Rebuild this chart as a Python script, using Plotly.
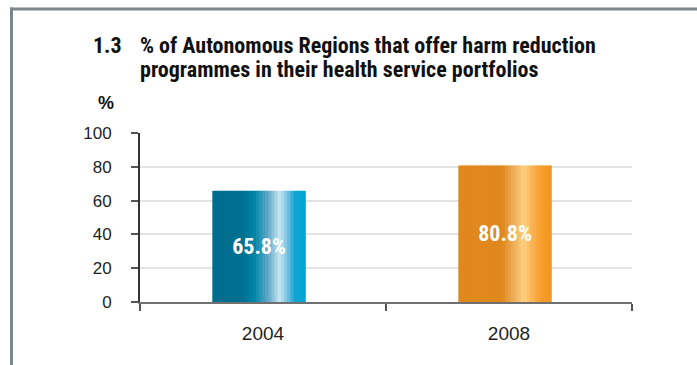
import plotly.graph_objects as go

# ---- data ----
categories = ["2004", "2008"]
values = [65.8, 80.8]
bar_labels = ["65.8%", "80.8%"]
y_ticks = [0, 20, 40, 60, 80, 100]
title_number = "1.3"
title_line1 = "% of Autonomous Regions that offer harm reduction"
title_line2 = "programmes in their health service portfolios"
y_unit = "%"

# ---- styling ----
W, H = 697, 365
ML, MR, MT, MB = 140, 65, 133, 63
PW, PH = W - ML - MR, H - MT - MB

def px(x):
    return (x - ML) / PW

def py(y):
    return (H - MB - y) / PH

blue_stops = [(0.0, (0, 110, 142)), (0.33, (0, 112, 144)), (0.45, (0, 134, 168)),
              (0.60, (100, 170, 200)), (0.72, (200, 230, 242)), (0.80, (120, 196, 226)),
              (0.88, (20, 166, 210)), (1.0, (0, 164, 210))]
orange_stops = [(0.0, (224, 136, 28)), (0.47, (224, 136, 28)), (0.55, (232, 160, 70)),
                (0.70, (255, 208, 130)), (0.80, (250, 176, 80)), (0.90, (245, 156, 40)),
                (1.0, (245, 150, 32))]

def colour_at(stops, f):
    for (f0, c0), (f1, c1) in zip(stops[:-1], stops[1:]):
        if f0 <= f <= f1:
            t = 0 if f1 == f0 else (f - f0) / (f1 - f0)
            c = [round(a + (b - a) * t) for a, b in zip(c0, c1)]
            return "rgb(%d,%d,%d)" % tuple(c)
    return "rgb(%d,%d,%d)" % stops[-1][1]

bar_w = 0.38
shift = -0.016
N = 30
sw = bar_w / N
COND = "Roboto Condensed, Liberation Sans Narrow, Arial Narrow, Liberation Sans"

fig = go.Figure()
for i in range(N):
    f = (i + 0.5) / N
    fig.add_trace(go.Bar(
        x=categories, y=values,
        width=sw * (1.5 if i < N - 1 else 1.0), offset=shift - bar_w / 2 + i * sw,
        marker=dict(color=[colour_at(blue_stops, f), colour_at(orange_stops, f)],
                    line=dict(width=0)),
        hoverinfo="skip", showlegend=False,
    ))

fig.add_trace(go.Bar(
    x=categories, y=values, width=bar_w, offset=shift - bar_w / 2,
    marker=dict(color="rgba(0,0,0,0)", line=dict(width=0)),
    text=bar_labels, textposition="inside", insidetextanchor="middle",
    textfont=dict(family=COND, size=22, color="white", weight="bold"),
    textangle=0, showlegend=False, hoverinfo="skip",
))

fig.update_layout(
    width=W, height=H,
    margin=dict(l=ML, r=MR, t=MT, b=MB),
    paper_bgcolor="white", plot_bgcolor="white",
    barmode="overlay",
    xaxis=dict(
        type="category", tickson="boundaries", ticks="outside", ticklen=7,
        tickcolor="#555", tickwidth=1.5, showline=True, linecolor="#707070", linewidth=1.5,
        showgrid=False, range=[-0.5, 1.5],
        tickfont=dict(family="Liberation Sans, Arial", size=19, color="#231f20"),
        ticklabelstandoff=13,
    ),
    yaxis=dict(
        range=[0, 100], tickvals=y_ticks, ticks="outside", ticklen=7,
        tickcolor="#555", tickwidth=1.5, showline=True, linecolor="#333", linewidth=2,
        gridcolor="#e3e3e3", gridwidth=1.5, zeroline=False,
        tickfont=dict(family="Liberation Sans, Arial", size=17, color="#231f20"),
        ticklabelstandoff=16,
    ),
    showlegend=False,
)

tf = dict(family=COND, size=22, color="#111", weight="bold")

fig.add_annotation(xref="paper", yref="paper", showarrow=False, text=title_number, borderpad=0,
                   x=px(92), y=py(59), xanchor="left", yanchor="bottom", font=tf)
fig.add_annotation(xref="paper", yref="paper", showarrow=False, text=title_line1, borderpad=0,
                   x=px(139), y=py(59), xanchor="left", yanchor="bottom", font=tf)
fig.add_annotation(xref="paper", yref="paper", showarrow=False, text=title_line2, borderpad=0,
                   x=px(139), y=py(83), xanchor="left", yanchor="bottom", font=tf)
fig.add_annotation(xref="paper", yref="paper", showarrow=False, text=y_unit,
                   x=px(116), y=py(103), xanchor="right", yanchor="middle",
                   font=dict(family="Liberation Sans, Arial", size=18, color="#111", weight="bold"))

fig.add_shape(type="line", xref="paper", yref="paper", x0=px(10), x1=px(700), y0=py(9), y1=py(9),
              line=dict(color="#7b878d", width=3))
fig.add_shape(type="line", xref="paper", yref="paper", x0=px(11.5), x1=px(11.5), y0=py(7.5), y1=py(370),
              line=dict(color="#7b878d", width=3))

fig.write_html("out.html", config={"displayModeBar": False},
               post_script="document.body.style.margin='0';document.body.style.overflow='hidden';")
